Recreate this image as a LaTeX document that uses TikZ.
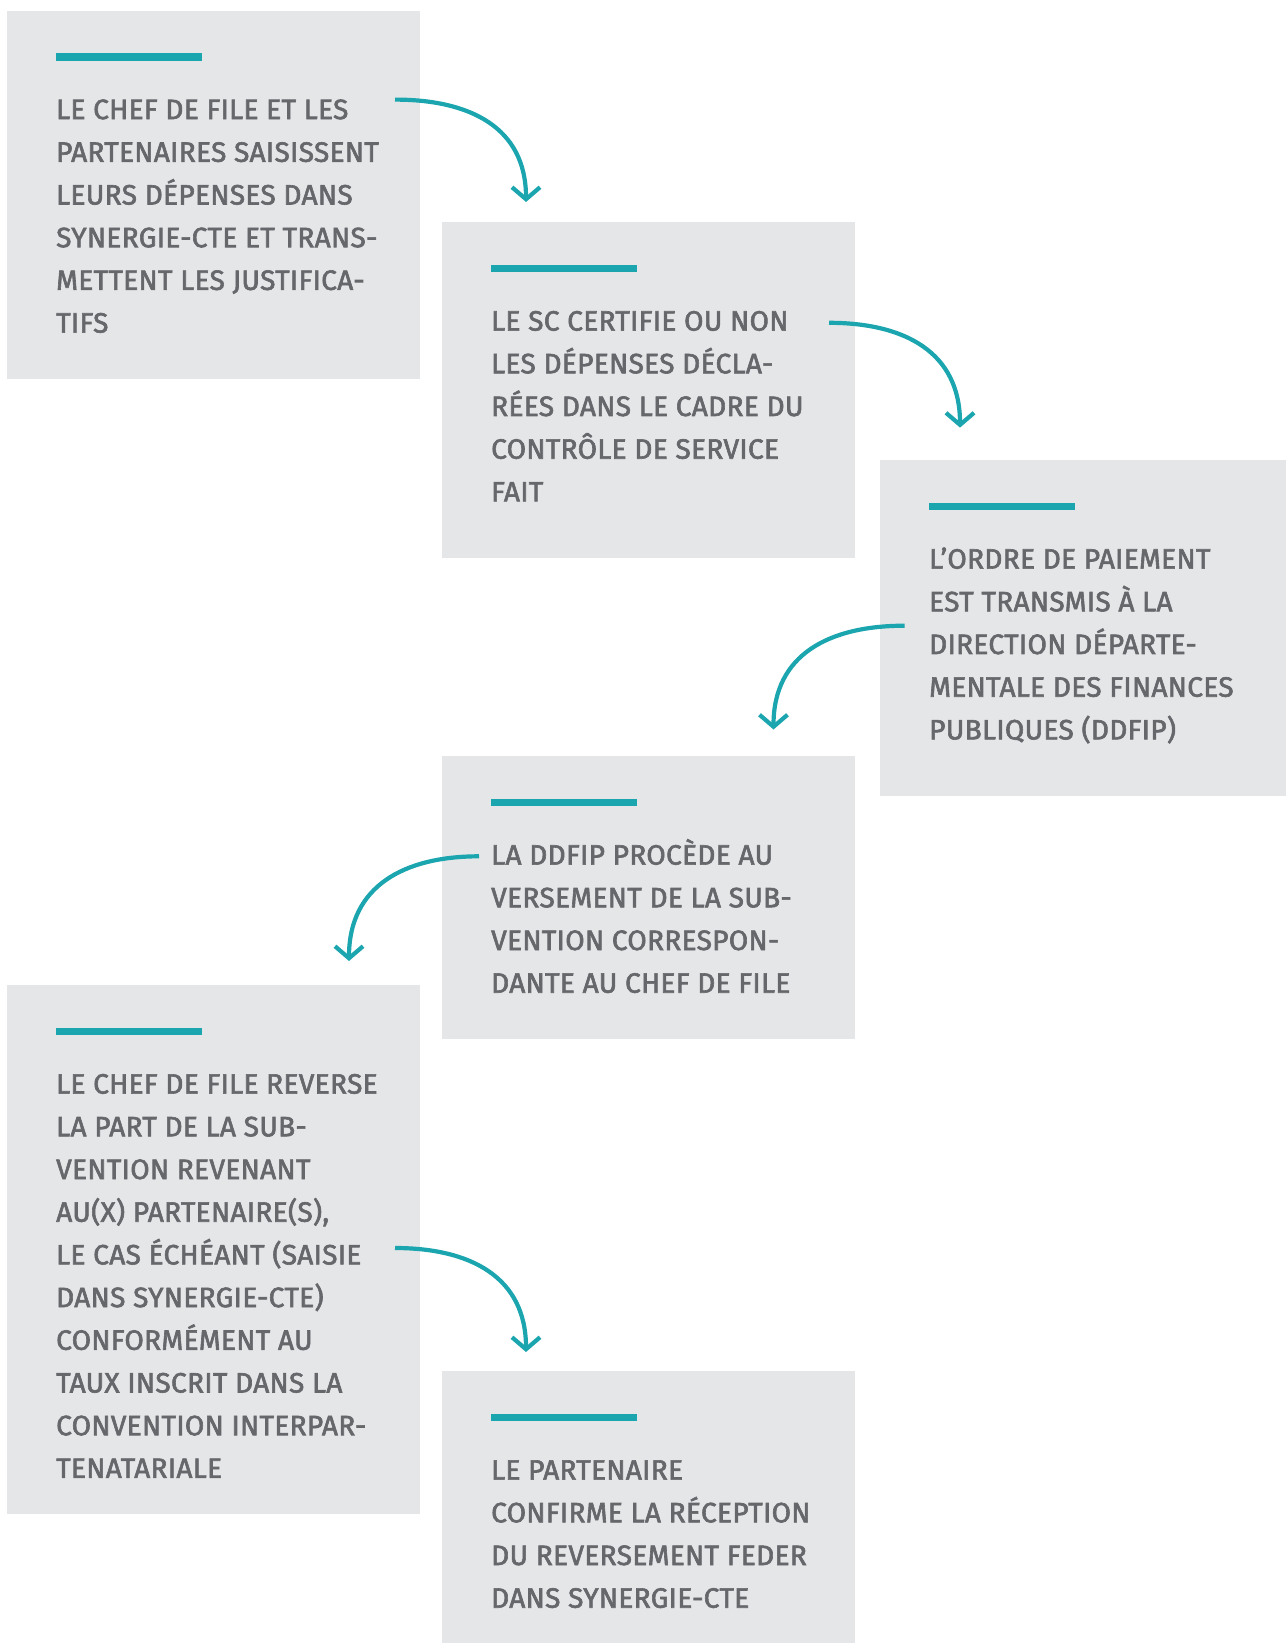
\documentclass[tikz,border=0pt]{standalone}
\usepackage{fontspec}
\setmainfont{Fira Sans}[FakeBold=2.2,LetterSpace=1.2]
\usetikzlibrary{arrows.meta}
\definecolor{boxgrey}{HTML}{E5E6E8}
\definecolor{barteal}{HTML}{1BA5AE}
\definecolor{textgrey}{HTML}{66676B}
\begin{document}
\begin{tikzpicture}[x=1pt,y=1pt]
  \tikzstyle{every node}=[inner sep=0pt]
  \tikzstyle{stepbox}=[fill=boxgrey,anchor=north west,minimum width=413pt]
  \tikzstyle{stepbar}=[fill=barteal,anchor=north west,minimum width=146pt,minimum height=7.5pt]
  \tikzstyle{steptext}=[anchor=north west,align=left,text=textgrey,font=\fontsize{28}{42.7}\selectfont]
  \tikzstyle{steparrow}=[draw=barteal,line width=4.2pt,looseness=1.15,-{Straight Barb[length=12pt,width=28pt]}]
  \useasboundingbox (0,0) rectangle (1285,-1643);

  % boxes
  \node[stepbox,minimum height=368pt] (b1) at (7,-10.5) {};
  \node[stepbox,minimum height=336pt] (b2) at (442,-222) {};
  \node[stepbox,minimum height=336pt] (b3) at (880,-460) {};
  \node[stepbox,minimum height=283pt] (b4) at (442,-756) {};
  \node[stepbox,minimum height=529pt] (b5) at (7,-985) {};
  \node[stepbox,minimum height=290pt] (b6) at (442,-1371) {};

  \foreach \b in {1,...,6}
    \node[stepbar] (bar\b) at ([shift={(49,-42.5)}]b\b.north west) {};

  % texts
  \node[steptext] (t1) at ([shift={(49,-78.5)}]b1.north west)
    {\strut LE CHEF DE FILE ET LES\\PARTENAIRES SAISISSENT\\LEURS DÉPENSES DANS\\SYNERGIE-CTE ET TRANS-\\METTENT LES JUSTIFICA-\\TIFS};
  \node[steptext] (t2) at ([shift={(49,-78.5)}]b2.north west)
    {\strut LE SC CERTIFIE OU NON\\LES DÉPENSES DÉCLA-\\RÉES DANS LE CADRE DU\\CONTRÔLE DE SERVICE\\FAIT};
  \node[steptext] (t3) at ([shift={(49,-78.5)}]b3.north west)
    {\strut L’ORDRE DE PAIEMENT\\EST TRANSMIS À LA\\DIRECTION DÉPARTE-\\MENTALE DES FINANCES\\PUBLIQUES (DDFIP)};
  \node[steptext] (t4) at ([shift={(49,-78.5)}]b4.north west)
    {\strut LA DDFIP PROCÈDE AU\\VERSEMENT DE LA SUB-\\VENTION CORRESPON-\\DANTE AU CHEF DE FILE};
  \node[steptext] (t5) at ([shift={(49,-78.5)}]b5.north west)
    {\strut LE CHEF DE FILE REVERSE\\LA PART DE LA SUB-\\VENTION REVENANT\\AU(X) PARTENAIRE(S),\\LE CAS ÉCHÉANT (SAISIE\\DANS SYNERGIE-CTE)\\CONFORMÉMENT AU\\TAUX INSCRIT DANS LA\\CONVENTION INTERPAR-\\TENATARIALE};
  \node[steptext] (t6) at ([shift={(49,-78.5)}]b6.north west)
    {\strut LE PARTENAIRE\\CONFIRME LA RÉCEPTION\\DU REVERSEMENT FEDER\\DANS SYNERGIE-CTE};

  % arrows
  \coordinate (s1) at (395,-99.6);   \coordinate (e1) at (526,-202);
  \coordinate (s2) at (829,-322.8);  \coordinate (e2) at (960,-427.6);
  \coordinate (s3) at (904.5,-625.7);\coordinate (e3) at (773.5,-729.5);
  \coordinate (s4) at (479,-856.3);  \coordinate (e4) at (349,-961);
  \coordinate (s5) at (395,-1248);   \coordinate (e5) at (526,-1352);
  \draw[steparrow] (s1) to[out=0,in=90] (e1);
  \draw[steparrow] (s2) to[out=0,in=90] (e2);
  \draw[steparrow] (s3) to[out=180,in=90] (e3);
  \draw[steparrow] (s4) to[out=180,in=90] (e4);
  \draw[steparrow] (s5) to[out=0,in=90] (e5);
\end{tikzpicture}
\end{document}
